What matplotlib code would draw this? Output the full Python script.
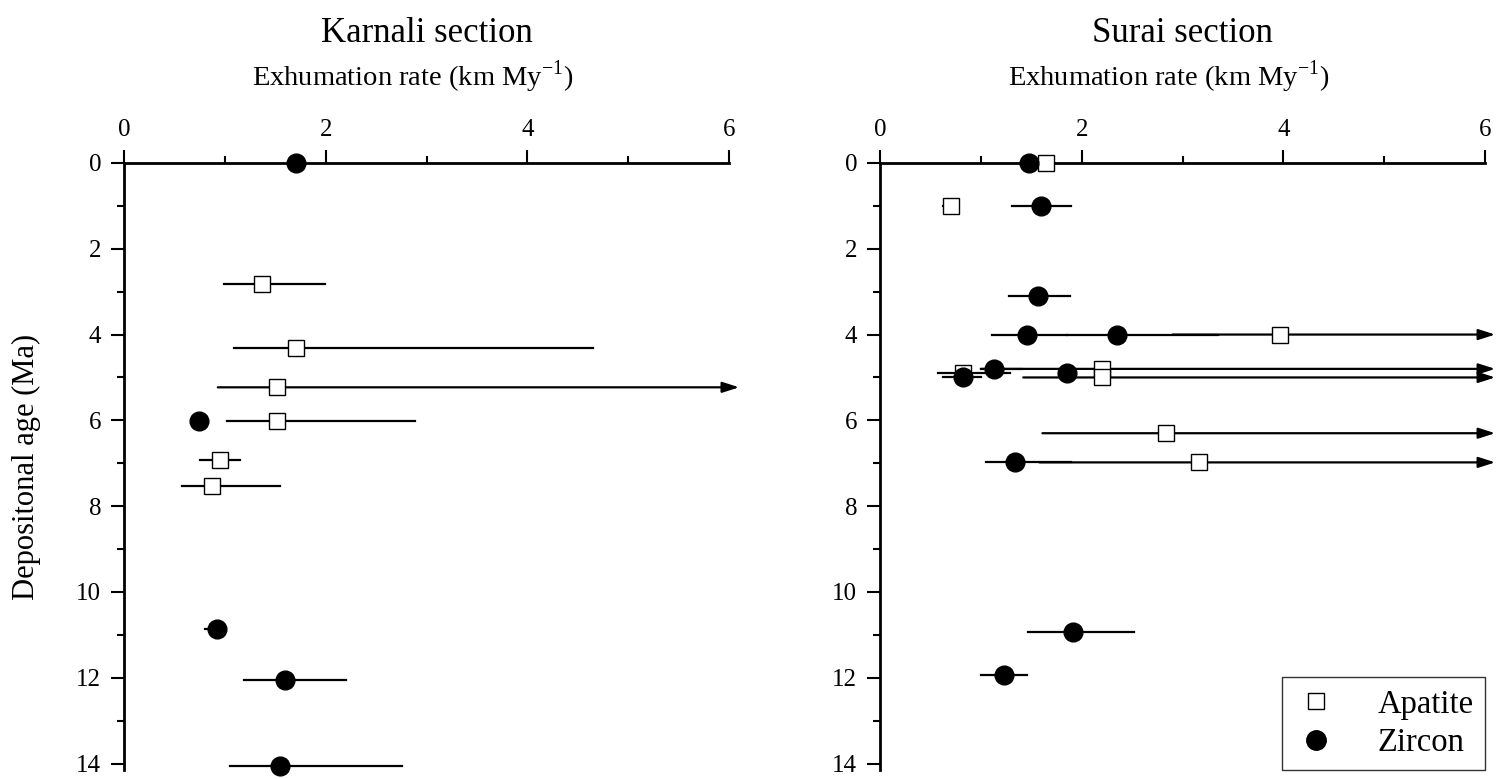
import numpy as np
import matplotlib
matplotlib.use('Agg')
import matplotlib.pyplot as plt
from matplotlib.lines import Line2D

plt.rcParams['font.family'] = ['Liberation Serif', 'DejaVu Serif']
plt.rcParams['mathtext.fontset'] = 'custom'
plt.rcParams['mathtext.rm'] = 'Liberation Serif'

# Karnali section (nan upper bound = open-ended, drawn as arrow)
karnali_ap_rate = [1.37, 1.71, 1.52, 1.52, 0.95, 0.87]
karnali_ap_age = [2.81, 4.32, 5.23, 6.02, 6.92, 7.52]
karnali_ap_lo = [0.99, 1.09, 0.93, 1.02, 0.75, 0.58]
karnali_ap_hi = [1.99, 4.65, np.nan, 2.89, 1.15, 1.55]

karnali_zr_rate = [1.71, 0.74, 0.92, 1.60, 1.55]
karnali_zr_age = [0.0, 6.02, 10.87, 12.05, 14.05]
karnali_zr_lo = [1.71, 0.74, 0.80, 1.19, 1.05]
karnali_zr_hi = [1.71, 0.74, 0.95, 2.20, 2.76]

# Surai section
surai_ap_rate = [1.65, 0.70, 3.97, 2.20, 0.82, 2.20, 2.84, 3.16]
surai_ap_age = [0.0, 1.0, 4.0, 4.8, 4.9, 5.0, 6.3, 6.98]
surai_ap_lo = [1.65, 0.62, 2.90, 1.00, 0.57, 1.42, 1.61, 1.58]
surai_ap_hi = [1.65, 0.72, np.nan, np.nan, 1.29, np.nan, np.nan, np.nan]

surai_zr_rate = [1.48, 1.60, 1.57, 1.46, 2.35, 1.13, 1.85, 0.82, 1.34, 1.91, 1.23]
surai_zr_age = [0.0, 1.0, 3.1, 4.0, 4.0, 4.8, 4.9, 5.0, 6.98, 10.93, 11.93]
surai_zr_lo = [1.48, 1.31, 1.28, 1.11, 1.85, 1.00, 1.85, 0.62, 1.05, 1.47, 1.00]
surai_zr_hi = [1.48, 1.89, 1.88, 1.85, 3.35, 1.41, 1.85, 1.00, 1.89, 2.52, 1.46]

XMAX = 6
ARROW_END = 6.1


def draw_errors(ax, rate, age, lo, hi):
    for r, a, l, h in zip(rate, age, lo, hi):
        if np.isnan(h):
            ax.annotate('', xy=(ARROW_END, a), xytext=(l, a),
                        arrowprops=dict(arrowstyle='-|>,head_length=1.0,head_width=0.32',
                                        color='black', lw=1.6, shrinkA=0, shrinkB=0),
                        annotation_clip=False, zorder=2)
        else:
            ax.plot([l, h], [a, a], color='black', lw=1.6, zorder=2, clip_on=False)


def style_axes(ax):
    ax.set_xlim(0, XMAX)
    ax.set_ylim(14.15, 0)
    ax.spines['right'].set_visible(False)
    ax.spines['bottom'].set_visible(False)
    ax.spines['top'].set_linewidth(2)
    ax.spines['left'].set_linewidth(2)
    ax.xaxis.tick_top()
    ax.set_xticks([0, 2, 4, 6])
    ax.set_xticks([1, 3, 5], minor=True)
    ax.set_yticks(np.arange(0, 15, 2))
    ax.set_yticks(np.arange(1, 14, 2), minor=True)
    ax.tick_params(which='major', length=9.5, width=1.5, labelsize=18)
    ax.tick_params(which='minor', length=5, width=1.5)
    ax.tick_params(axis='x', which='major', pad=6)
    ax.tick_params(axis='y', which='major', pad=7)
    ax.tick_params(axis='x', which='both', top=True, bottom=False)


fig = plt.figure(figsize=(15.01, 7.79), dpi=100)
ax1 = fig.add_axes([0.0826, 0.0116, 0.4031, 0.7792])
ax2 = fig.add_axes([0.5863, 0.0116, 0.4031, 0.7792])

panels = [
    (ax1, 'Karnali section', karnali_ap_rate, karnali_ap_age, karnali_ap_lo, karnali_ap_hi,
     karnali_zr_rate, karnali_zr_age, karnali_zr_lo, karnali_zr_hi),
    (ax2, 'Surai section', surai_ap_rate, surai_ap_age, surai_ap_lo, surai_ap_hi,
     surai_zr_rate, surai_zr_age, surai_zr_lo, surai_zr_hi),
]

for ax, title, ar, aa, al, ah, zr, za, zl, zh in panels:
    style_axes(ax)
    draw_errors(ax, ar, aa, al, ah)
    draw_errors(ax, zr, za, zl, zh)
    ax.plot(ar, aa, 's', ms=11.5, mfc='white', mec='black', mew=1.0, zorder=4, clip_on=False)
    ax.plot(zr, za, 'o', ms=13.5, color='black', zorder=5, clip_on=False)
    pos = ax.get_position()
    xc = (pos.x0 + pos.x1) / 2
    fig.text(xc, 0.957, title, ha='center', va='center', fontsize=25)
    fig.text(xc - 0.009, 0.902, 'Exhumation rate (km My$^{-1}$)', ha='center', va='center',
             fontsize=20.5)

fig.text(26 / 1501, 0.401, 'Depositonal age (Ma)', rotation=90, ha='center', va='center',
         fontsize=22)

handles = [
    Line2D([], [], ls='none', marker='s', ms=11, mfc='white', mec='black', mew=1.0),
    Line2D([], [], ls='none', marker='o', ms=14, color='black'),
]
leg = ax2.legend(handles, ['Apatite', 'Zircon'], loc='lower right', fontsize=23.5,
                 frameon=True, fancybox=False, edgecolor='black', borderaxespad=0.0,
                 handlelength=1.35, handletextpad=1.2, labelspacing=0.25,
                 borderpad=0.36)
leg.get_frame().set_linewidth(1.0)

fig.savefig('out.png', dpi=100)
